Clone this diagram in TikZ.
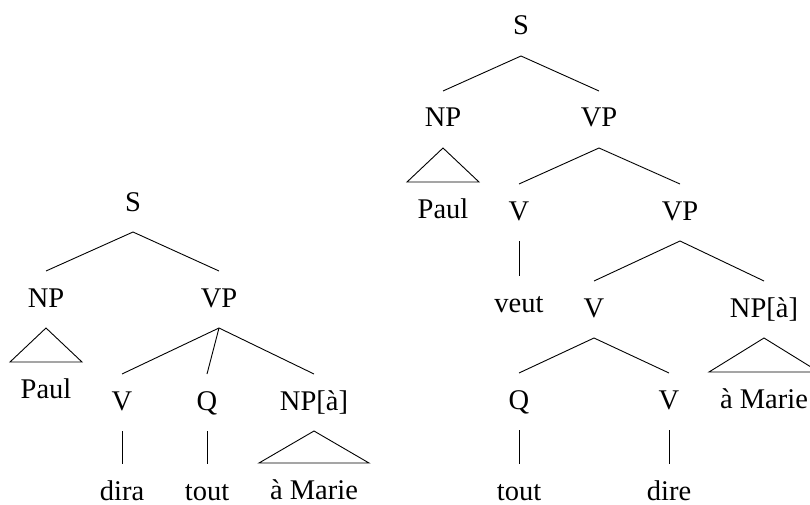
\documentclass[tikz,border=0pt]{standalone}
\usepackage{fontspec}
\setmainfont{Liberation Serif}
\begin{document}
\begin{tikzpicture}[x=1pt,y=-1pt,
  lab/.style={anchor=base,inner sep=0pt,outer sep=0pt,text height=36pt,text depth=21pt,font=\fontsize{28.5}{34}\selectfont},
  every path/.style={line width=0.9pt}]
\useasboundingbox (0,0) rectangle (810,505);
% left tree
\node[lab] (lS) at (133,211) {S};
\node[lab] (lNP) at (46,307) {NP};
\node[lab] (lVP) at (219,307) {VP};
\node[lab] (lPaul) at (46,398) {Paul};
\node[lab] (lV) at (122,410) {V};
\node[lab] (lQ) at (207,410) {Q};
\node[lab] (lNPa) at (314,410) {NP[à]};
\node[lab] (ldira) at (122,500) {dira};
\node[lab] (ltout) at (207,500) {tout};
\node[lab] (lMarie) at (314,499) {à Marie};
\draw (lS.south) -- (lNP.north);
\draw (lS.south) -- (lVP.north);
\draw (lNP.south) -- ([xshift=-36pt]lPaul.north) -- ([xshift=36pt]lPaul.north) -- cycle;
\draw (lVP.south) -- (lV.north);
\draw (lVP.south) -- (lQ.north);
\draw (lVP.south) -- (lNPa.north);
\draw (lV.south) -- (ldira.north);
\draw (lQ.south) -- (ltout.north);
\draw (lNPa.south) -- ([xshift=-55pt]lMarie.north) -- ([xshift=55pt]lMarie.north) -- cycle;
% right tree
\node[lab] (rS) at (521,35) {S};
\node[lab] (rNP) at (443,127) {NP};
\node[lab] (rVP) at (599,127) {VP};
\node[lab] (rPaul) at (443,218) {Paul};
\node[lab] (rV) at (519,220) {V};
\node[lab] (rVPb) at (680,220) {VP};
\node[lab] (rveut) at (519,312) {veut};
\node[lab] (rVb) at (594,317) {V};
\node[lab] (rNPa) at (764,317) {NP[à]};
\node[lab] (rMarie) at (764,408) {à Marie};
\node[lab] (rQ) at (519,409) {Q};
\node[lab] (rVc) at (669,409) {V};
\node[lab] (rtout) at (519,500) {tout};
\node[lab] (rdire) at (669,500) {dire};
\draw (rS.south) -- (rNP.north);
\draw (rS.south) -- (rVP.north);
\draw (rNP.south) -- ([xshift=-36pt]rPaul.north) -- ([xshift=36pt]rPaul.north) -- cycle;
\draw (rVP.south) -- (rV.north);
\draw (rVP.south) -- (rVPb.north);
\draw (rV.south) -- (rveut.north);
\draw (rVPb.south) -- (rVb.north);
\draw (rVPb.south) -- (rNPa.north);
\draw (rNPa.south) -- ([xshift=-55pt]rMarie.north) -- ([xshift=55pt]rMarie.north) -- cycle;
\draw (rVb.south) -- (rQ.north);
\draw (rVb.south) -- (rVc.north);
\draw (rQ.south) -- (rtout.north);
\draw (rVc.south) -- (rdire.north);
\end{tikzpicture}
\end{document}
